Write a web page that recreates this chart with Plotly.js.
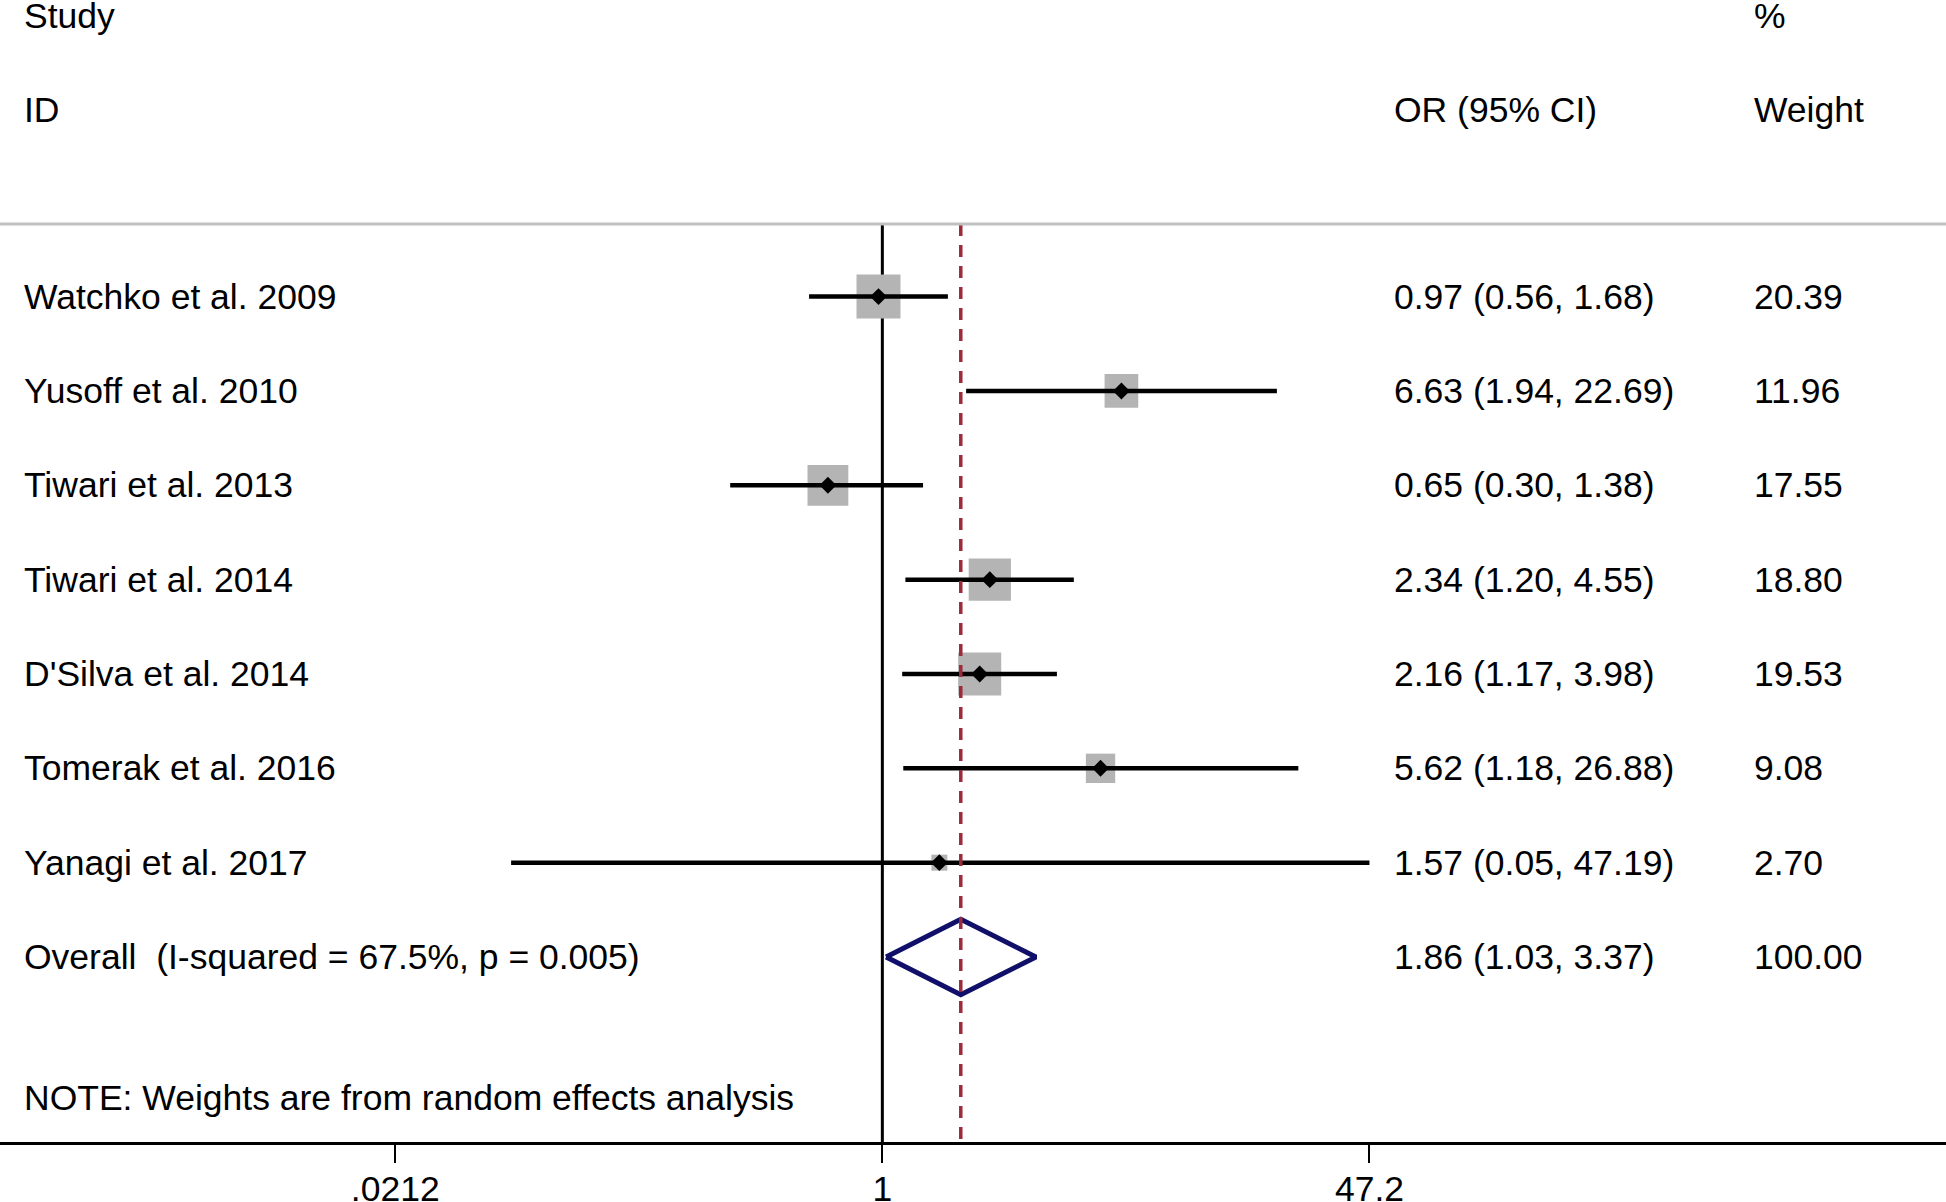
<!DOCTYPE html>
<html>
<head>
<meta charset="utf-8">
<script src="https://cdn.plot.ly/plotly-3.0.1.min.js"></script>
<style>
  html, body { margin: 0; padding: 0; background: #ffffff; }
  #forest { width: 1946px; height: 1202px; }
</style>
</head>
<body>
<div id="forest"></div>
<script>
// Forest plot: OR with 95% CI, random effects weights

const studies = [
  'Watchko et al. 2009',
  'Yusoff et al. 2010',
  'Tiwari et al. 2013',
  'Tiwari et al. 2014',
  "D'Silva et al. 2014",
  'Tomerak et al. 2016',
  'Yanagi et al. 2017'
];
const orEst = [0.97, 6.63, 0.65, 2.34, 2.16, 5.62, 1.57];
const ciLow = [0.56, 1.94, 0.30, 1.20, 1.17, 1.18, 0.053];
const ciHigh = [1.68, 22.69, 1.38, 4.55, 3.98, 26.88, 47.19];
const weights = [20.39, 11.96, 17.55, 18.80, 19.53, 9.08, 2.70];

const overallLabel = 'Overall\u00a0\u00a0(I-squared = 67.5%, p = 0.005)';
const overallEst = 1.86;
const overallLow = 1.03;
const overallHigh = 3.37;
const overallWeight = 100.00;

const tickVals = [0.0212, 1, 47.2];
const tickText = ['.0212', '1', '47.2'];

const noteText = 'NOTE: Weights are from random effects analysis';

// row positions (1 = first study, top to bottom)
const rows = studies.map((s, i) => i + 1);
const overallRow = studies.length + 1;

const FONT = { family: '"Liberation Sans", Arial, Helvetica, sans-serif', size: 35.5, color: '#000000' };
const yTop = 0.23;      // grey separator line
const yBottom = 9.961;  // bottom of plot area

const fmt = v => v.toFixed(2);

// reference lines
const nullLine = {
  x: [1, 1], y: [yTop, yBottom],
  mode: 'lines', type: 'scatter',
  line: { color: '#000000', width: 3 },
  hoverinfo: 'skip'
};

const overallLine = {
  x: [overallEst, overallEst], y: [yTop, yBottom],
  mode: 'lines', type: 'scatter',
  line: { color: '#9C2B3B', width: 3.5, dash: '12px,9px' },
  hoverinfo: 'skip'
};

// weight boxes (area ~ weight)
const boxes = {
  x: orEst, y: rows,
  mode: 'markers', type: 'scatter',
  marker: {
    symbol: 'square',
    size: weights.map(w => 9.74 * Math.sqrt(w)),
    color: '#B4B4B4',
    opacity: 1,
    line: { width: 0 }
  },
  hoverinfo: 'skip'
};

// confidence interval lines
const ciX = [];
const ciY = [];
rows.forEach((r, i) => {
  ciX.push(ciLow[i], ciHigh[i], null);
  ciY.push(r, r, null);
});
const ciLines = {
  x: ciX, y: ciY,
  mode: 'lines', type: 'scatter',
  line: { color: '#000000', width: 4.5 },
  hoverinfo: 'skip'
};

const points = {
  x: orEst, y: rows,
  mode: 'markers', type: 'scatter',
  marker: { symbol: 'diamond', size: 13, color: '#000000', opacity: 1 },
  hoverinfo: 'skip'
};

// pooled estimate diamond
const diamond = {
  x: [overallLow, overallEst, overallHigh, overallEst, overallLow],
  y: [overallRow, overallRow - 0.4, overallRow, overallRow + 0.4, overallRow],
  mode: 'lines', type: 'scatter',
  line: { color: '#10106A', width: 5 },
  hoverinfo: 'skip'
};

const data = [nullLine, boxes, ciLines, points, diamond, overallLine];

const colStudy = 22 / 1946;
const colOR = 1392 / 1946;
const colW = 1752 / 1946;

function textAt(x, y, text) {
  return {
    xref: 'paper', yref: 'y', x: x, y: y,
    xanchor: 'left', yanchor: 'middle',
    text: text, showarrow: false, font: FONT
  };
}

const annotations = [
  textAt(colStudy, -1.97, 'Study'),
  textAt(colStudy, -0.98, 'ID'),
  textAt(colOR, -0.98, 'OR (95% CI)'),
  textAt(colW, -1.97, '%'),
  textAt(colW, -0.98, 'Weight')
];

studies.forEach((s, i) => {
  annotations.push(textAt(colStudy, rows[i], s));
  annotations.push(textAt(colOR, rows[i], `${fmt(orEst[i])} (${fmt(ciLow[i])}, ${fmt(ciHigh[i])})`));
  annotations.push(textAt(colW, rows[i], fmt(weights[i])));
});

annotations.push(textAt(colStudy, overallRow, overallLabel));
annotations.push(textAt(colOR, overallRow, `${fmt(overallEst)} (${fmt(overallLow)}, ${fmt(overallHigh)})`));
annotations.push(textAt(colW, overallRow, fmt(overallWeight)));
annotations.push(textAt(colStudy, 9.495, noteText));

const layout = {
  width: 1946,
  height: 1202,
  margin: { l: 0, r: 0, t: 0, b: 60 },
  showlegend: false,
  plot_bgcolor: '#FFFFFF',
  paper_bgcolor: '#FFFFFF',
  font: FONT,
  xaxis: {
    type: 'log',
    range: [-3.032, 3.655],
    tickvals: tickVals,
    ticktext: tickText,
    ticks: 'outside',
    ticklen: 18,
    tickwidth: 2,
    tickcolor: '#000000',
    ticklabelstandoff: -5,
    showline: true,
    linecolor: '#000000',
    linewidth: 3,
    showgrid: false,
    zeroline: false,
    tickfont: FONT,
    fixedrange: true
  },
  yaxis: {
    range: [yBottom, -2.144],
    showticklabels: false,
    showgrid: false,
    zeroline: false,
    showline: false,
    ticks: '',
    fixedrange: true
  },
  shapes: [
    {
      type: 'line', xref: 'paper', yref: 'y',
      x0: 0, x1: 1, y0: yTop, y1: yTop,
      line: { color: '#C0C0C0', width: 3 }
    }
  ],
  annotations: annotations
};

Plotly.newPlot('forest', data, layout, { displayModeBar: false, staticPlot: true });
</script>
</body>
</html>
